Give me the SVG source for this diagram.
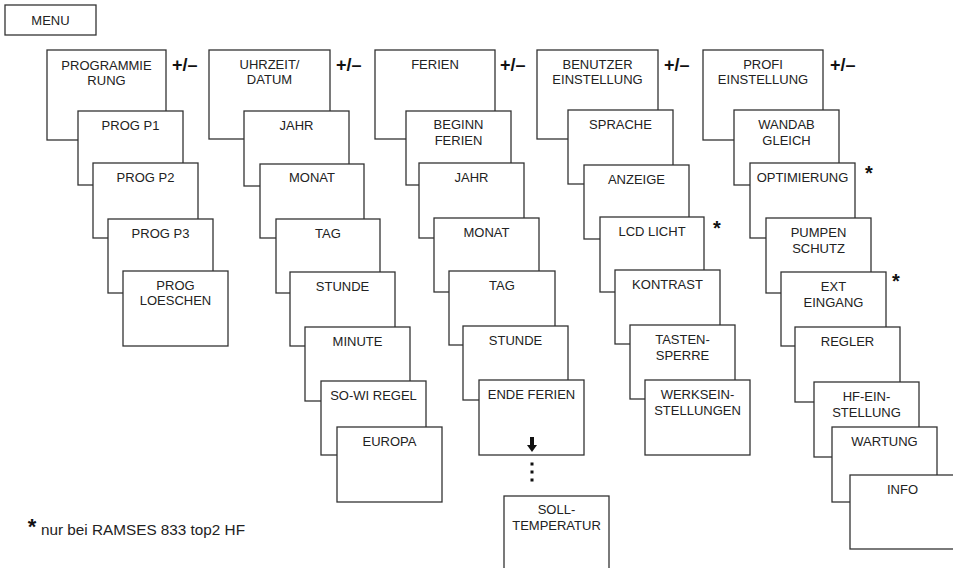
<svg xmlns="http://www.w3.org/2000/svg" width="953" height="568" viewBox="0 0 953 568">
<style>
.b{fill:#fff;stroke:#333;stroke-width:1.3}
.t{font-family:"Liberation Sans",Arial,sans-serif;font-size:13px;text-anchor:middle;fill:#222}
.pm{font-family:"Liberation Sans",Arial,sans-serif;font-size:18px;font-weight:bold;fill:#111}
.st{font-family:"Liberation Sans",Arial,sans-serif;font-size:20px;font-weight:bold;fill:#111;text-anchor:middle}
.fn{font-family:"Liberation Sans",Arial,sans-serif;font-size:15px;fill:#222}
</style>
<rect width="953" height="568" fill="#fff"/>
<g id="menu"><rect class="b" x="5" y="5" width="91" height="30"/><text class="t" x="50.5" y="25">MENU</text></g>

<g id="col1">
<g id="programmierung"><rect class="b" x="47" y="50" width="119" height="90"/><text class="t" x="106.5" y="70">PROGRAMMIE</text><text class="t" x="106.5" y="85">RUNG</text></g>
<g id="prog-p1"><rect class="b" x="78" y="111" width="105" height="74"/><text class="t" x="130.5" y="130">PROG P1</text></g>
<g id="prog-p2"><rect class="b" x="93" y="163" width="105" height="75"/><text class="t" x="145.5" y="182">PROG P2</text></g>
<g id="prog-p3"><rect class="b" x="108" y="219" width="105" height="74"/><text class="t" x="160.5" y="238">PROG P3</text></g>
<g id="prog-loeschen"><rect class="b" x="123" y="271" width="105" height="75"/><text class="t" x="175.5" y="290">PROG</text><text class="t" x="175.5" y="305">LOESCHEN</text></g>
</g>

<g id="col2">
<g id="uhrzeit"><rect class="b" x="209" y="50" width="121" height="89"/><text class="t" x="269.5" y="69">UHRZEIT/</text><text class="t" x="269.5" y="84">DATUM</text></g>
<g id="jahr1"><rect class="b" x="244" y="111" width="105" height="75"/><text class="t" x="296.5" y="130">JAHR</text></g>
<g id="monat1"><rect class="b" x="260" y="164" width="104" height="74"/><text class="t" x="312" y="182">MONAT</text></g>
<g id="tag1"><rect class="b" x="276" y="219" width="104" height="74"/><text class="t" x="328" y="238">TAG</text></g>
<g id="stunde1"><rect class="b" x="290" y="272" width="105" height="74"/><text class="t" x="342.5" y="291">STUNDE</text></g>
<g id="minute"><rect class="b" x="305" y="327" width="105" height="74"/><text class="t" x="357.5" y="346">MINUTE</text></g>
<g id="sowi"><rect class="b" x="321" y="381" width="105" height="74"/><text class="t" x="373.5" y="400">SO-WI REGEL</text></g>
<g id="europa"><rect class="b" x="337" y="427" width="105" height="75"/><text class="t" x="389.5" y="446">EUROPA</text></g>
</g>

<g id="col3">
<g id="ferien"><rect class="b" x="375" y="50" width="120" height="89"/><text class="t" x="435" y="69">FERIEN</text></g>
<g id="beginn"><rect class="b" x="406" y="111" width="105" height="74"/><text class="t" x="458.5" y="129">BEGINN</text><text class="t" x="458.5" y="145">FERIEN</text></g>
<g id="jahr2"><rect class="b" x="419" y="163" width="105" height="75"/><text class="t" x="471.5" y="182">JAHR</text></g>
<g id="monat2"><rect class="b" x="434" y="218" width="105" height="74"/><text class="t" x="486.5" y="237">MONAT</text></g>
<g id="tag2"><rect class="b" x="449" y="271" width="106" height="74"/><text class="t" x="502" y="290">TAG</text></g>
<g id="stunde2"><rect class="b" x="463" y="326" width="105" height="74"/><text class="t" x="515.5" y="345">STUNDE</text></g>
<g id="ende"><rect class="b" x="479" y="380" width="105" height="75"/><text class="t" x="531.5" y="399">ENDE FERIEN</text></g>
<g id="soll"><rect class="b" x="504" y="496" width="105" height="80"/><text class="t" x="556.5" y="514">SOLL-</text><text class="t" x="556.5" y="530">TEMPERATUR</text></g>
</g>

<g id="col4">
<g id="benutzer"><rect class="b" x="537" y="50" width="121" height="89"/><text class="t" x="597.5" y="69">BENUTZER</text><text class="t" x="597.5" y="84">EINSTELLUNG</text></g>
<g id="sprache"><rect class="b" x="568" y="110" width="105" height="74"/><text class="t" x="620.5" y="129">SPRACHE</text></g>
<g id="anzeige"><rect class="b" x="584" y="165" width="105" height="74"/><text class="t" x="636.5" y="184">ANZEIGE</text></g>
<g id="lcd"><rect class="b" x="600" y="217" width="104" height="75"/><text class="t" x="652" y="236">LCD LICHT</text></g>
<g id="kontrast"><rect class="b" x="615" y="270" width="105" height="74"/><text class="t" x="667.5" y="289">KONTRAST</text></g>
<g id="tasten"><rect class="b" x="630" y="325" width="105" height="74"/><text class="t" x="682.5" y="344">TASTEN-</text><text class="t" x="682.5" y="360">SPERRE</text></g>
<g id="werks"><rect class="b" x="645" y="380" width="105" height="75"/><text class="t" x="697.5" y="399">WERKSEIN-</text><text class="t" x="697.5" y="415">STELLUNGEN</text></g>
</g>

<g id="col5">
<g id="profi"><rect class="b" x="703" y="50" width="120" height="90"/><text class="t" x="763" y="69">PROFI</text><text class="t" x="763" y="84">EINSTELLUNG</text></g>
<g id="wandab"><rect class="b" x="734" y="110" width="105" height="75"/><text class="t" x="786.5" y="129">WANDAB</text><text class="t" x="786.5" y="145">GLEICH</text></g>
<g id="optimierung"><rect class="b" x="750" y="163" width="105" height="75"/><text class="t" x="802.5" y="182">OPTIMIERUNG</text></g>
<g id="pumpen"><rect class="b" x="766" y="218" width="105" height="75"/><text class="t" x="818.5" y="237">PUMPEN</text><text class="t" x="818.5" y="253">SCHUTZ</text></g>
<g id="ext"><rect class="b" x="781" y="272" width="105" height="74"/><text class="t" x="833.5" y="291">EXT</text><text class="t" x="833.5" y="307">EINGANG</text></g>
<g id="regler"><rect class="b" x="795" y="327" width="105" height="75"/><text class="t" x="847.5" y="346">REGLER</text></g>
<g id="hf"><rect class="b" x="814" y="382" width="105" height="75"/><text class="t" x="866.5" y="401">HF-EIN-</text><text class="t" x="866.5" y="417">STELLUNG</text></g>
<g id="wartung"><rect class="b" x="832" y="427" width="105" height="75"/><text class="t" x="884.5" y="446">WARTUNG</text></g>
<g id="info"><rect class="b" x="850" y="475" width="110" height="74"/><text class="t" x="902.5" y="494">INFO</text></g>
</g>

<g id="labels">
<text class="pm" x="172" y="71">+/–</text>
<text class="pm" x="336" y="71">+/–</text>
<text class="pm" x="500" y="71">+/–</text>
<text class="pm" x="664" y="71">+/–</text>
<text class="pm" x="830" y="71">+/–</text>
<text class="st" x="717" y="235">*</text>
<text class="st" x="869" y="180">*</text>
<text class="st" x="896" y="288">*</text>
</g>

<g id="connectors" fill="#111">
<rect x="530" y="437" width="4" height="9"/>
<polygon points="527,445 537,445 532,452"/>
<rect x="530.5" y="462.5" width="3" height="3"/>
<rect x="530.5" y="470.5" width="3" height="3"/>
<rect x="530.5" y="478.5" width="3" height="3"/>
</g>

<g id="footnote">
<text class="st" x="32" y="534" style="font-size:22px">*</text>
<text class="fn" x="41" y="535" textLength="204" lengthAdjust="spacingAndGlyphs">nur bei RAMSES 833 top2 HF</text>
</g>
</svg>
